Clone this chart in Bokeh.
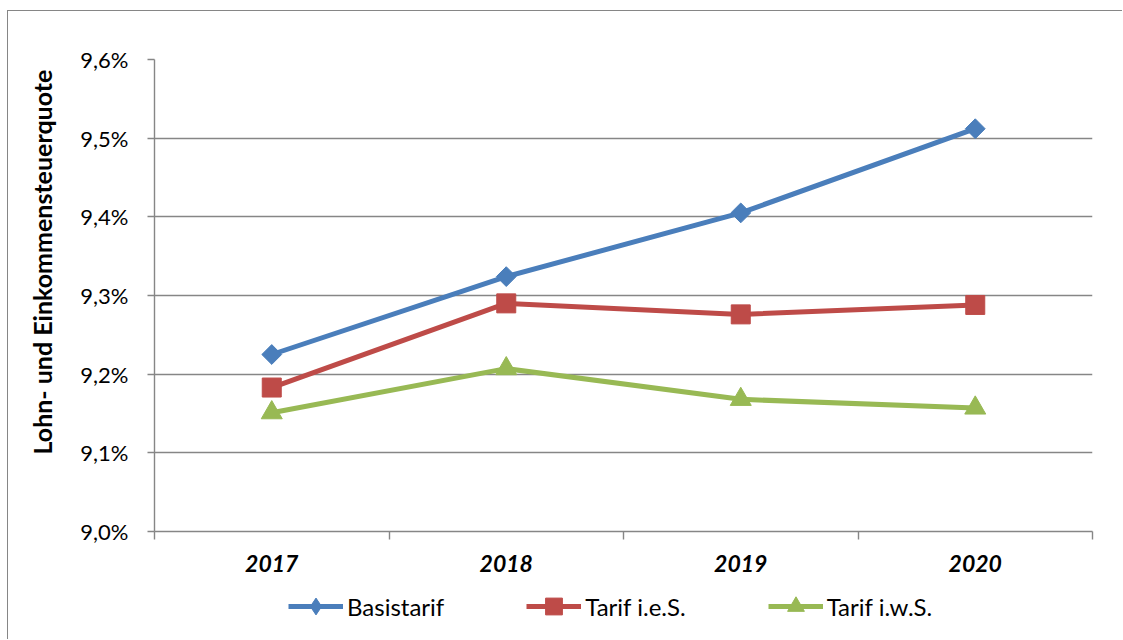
import numpy as np
from bokeh.plotting import figure
from bokeh.layouts import column
from bokeh.models import (FixedTicker, CustomJSTickFormatter, Legend, LegendItem, Range1d)
from bokeh.embed import file_html
from bokeh.resources import INLINE

# ---- data ----
years = ["2017", "2018", "2019", "2020"]
basistarif = [9.225, 9.324, 9.405, 9.512]
tarif_ies = [9.183, 9.290, 9.276, 9.288]
tarif_iws = [9.151, 9.207, 9.168, 9.157]
y_ticks = [9.0, 9.1, 9.2, 9.3, 9.4, 9.5, 9.6]
series_names = ["Basistarif", "Tarif i.e.S.", "Tarif i.w.S."]
y_title = "Lohn- und Einkommensteuerquote"

FONT = "Lato"
GRAY = "#868686"
COLORS = ["#4A7EBB", "#BE4B48", "#98B954"]

x = list(np.arange(len(years)) + 0.5)

p = figure(width=1114, height=572, output_backend="svg", toolbar_location=None,
           x_range=Range1d(0, len(years)), y_range=Range1d(y_ticks[0], y_ticks[-1]),
           min_border_left=146, min_border_right=30, min_border_top=48,
           min_border_bottom=52)
p.outline_line_color = None
p.background_fill_color = "white"
p.border_fill_color = "white"

# grid
p.xgrid.visible = False
p.ygrid.ticker = FixedTicker(ticks=y_ticks)
p.ygrid.grid_line_color = GRAY
p.ygrid.grid_line_width = 1.4

# y axis
yax = p.yaxis[0]
yax.ticker = FixedTicker(ticks=y_ticks)
yax.formatter = CustomJSTickFormatter(code="return tick.toFixed(1).replace('.', ',') + '%';")
yax.axis_line_color = GRAY
yax.axis_line_width = 1.4
yax.major_tick_line_color = GRAY
yax.major_tick_line_width = 1.4
yax.major_tick_out = 7
yax.major_tick_in = 0
yax.minor_tick_line_color = None
yax.major_label_standoff = 19
yax.major_label_text_font = FONT
yax.major_label_text_font_size = "22px"
yax.major_label_text_color = "black"
yax.axis_label = "\u00a0" * 11 + y_title
yax.axis_label_standoff = 20
yax.axis_label_text_font = FONT
yax.axis_label_text_font_size = "25px"
yax.axis_label_text_font_style = "bold"
yax.axis_label_text_color = "black"

# x axis
xax = p.xaxis[0]
xax.ticker = FixedTicker(ticks=x, minor_ticks=list(range(len(years) + 1)))
xax.formatter = CustomJSTickFormatter(args=dict(years=years),
                                      code="return years[Math.floor(tick)];")
xax.axis_line_color = GRAY
xax.axis_line_width = 1.4
xax.major_tick_line_color = None
xax.minor_tick_line_color = GRAY
xax.minor_tick_line_width = 1.4
xax.minor_tick_out = 8
xax.minor_tick_in = 0
xax.major_label_standoff = 15
xax.major_label_text_font = FONT
xax.major_label_text_font_size = "23px"
xax.major_label_text_font_style = "bold italic"
xax.major_label_text_color = "black"

# series
data = [basistarif, tarif_ies, tarif_iws]
markers = [("square", 14, np.pi / 4), ("square", 19, 0.0), ("triangle", 21, 0.0)]
legend_markers = ["diamond", "square", "triangle"]
line_kw = dict(line_width=5, line_join="round")
for vals, col, (mk, sz, ang) in zip(data, COLORS, markers):
    p.line(x, vals, line_color=col, **line_kw)
    p.scatter(x, vals, marker=mk, size=sz, angle=ang, fill_color=col,
              line_color=col, line_width=1)

# legend strip (separate canvas below the chart, same series styles)
pl = figure(width=1114, height=56, output_backend="svg", toolbar_location=None,
            x_axis_type=None, y_axis_type=None, min_border=0,
            x_range=Range1d(-20, -19), y_range=Range1d(0, 1))
pl.outline_line_color = None
pl.background_fill_color = "white"
pl.border_fill_color = "white"
pl.grid.visible = False
items = []
for vals, col, lmk, name in zip(data, COLORS, legend_markers, series_names):
    lr = pl.line(x, vals, line_color=col, **line_kw)
    sr = pl.scatter(x, vals, marker=lmk, size=17, fill_color=col,
                    line_color=col, line_width=1)
    items.append(LegendItem(label=name, renderers=[lr, sr]))
leg = Legend(items=items, location=(134, 12), orientation="horizontal",
             border_line_color=None, background_fill_alpha=0, padding=0,
             margin=0, spacing=82, glyph_width=55, glyph_height=42,
             label_standoff=4, label_text_font=FONT, label_text_font_size="24px",
             label_text_color="black")
pl.add_layout(leg)

layout = column(p, pl, spacing=0,
                styles={"margin-left": "7px", "margin-top": "10px",
                        "border-left": "1.5px solid #868686",
                        "border-top": "1.5px solid #868686"})

open("out.html", "w").write(file_html(layout, INLINE))
